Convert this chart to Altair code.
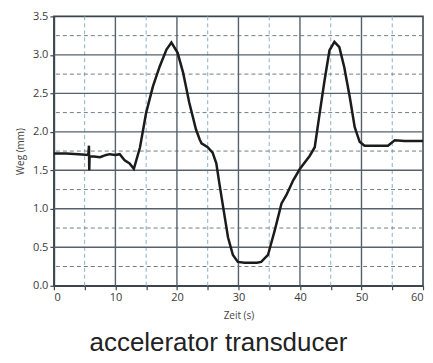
import altair as alt
import pandas as pd

# time (s) and displacement (mm)
t = [0, 2, 4, 5.6, 5.7, 5.75, 5.8, 6.5, 7.5, 8.5,
     9.1, 10.0, 10.7, 11.5, 12.3, 13.0, 14.0, 15.0, 16.1, 17.2,
     18.3, 19.1, 20.1, 21.0, 22.0, 23.1, 23.7, 24.0, 25.0, 25.8,
     26.4, 26.9, 27.6, 28.3, 29.1, 29.9, 31.0, 32.0, 33.0, 33.7,
     34.8, 35.9, 37.0, 37.8, 38.9, 40.0, 41.6, 42.4, 43.2, 44.0,
     44.8, 45.6, 46.4, 47.2, 48.1, 48.9, 49.7, 50.5, 52.0, 54.3,
     55.4, 57.0, 60.0]
weg = [1.72, 1.72, 1.71, 1.70, 1.82, 1.50, 1.68, 1.68, 1.67, 1.70,
       1.71, 1.70, 1.71, 1.63, 1.59, 1.52, 1.80, 2.25, 2.59, 2.85,
       3.07, 3.16, 3.03, 2.77, 2.38, 2.03, 1.90, 1.85, 1.80, 1.73,
       1.59, 1.33, 0.98, 0.63, 0.40, 0.31, 0.30, 0.30, 0.30, 0.31,
       0.40, 0.72, 1.07, 1.18, 1.37, 1.52, 1.69, 1.80, 2.24, 2.67,
       3.06, 3.17, 3.10, 2.84, 2.45, 2.06, 1.87, 1.82, 1.82, 1.82,
       1.89, 1.88, 1.88]

x_ticks = [0, 5, 10, 15, 20, 25, 30, 35, 40, 45, 50, 55, 60]
y_ticks = [0.0, 0.5, 1.0, 1.5, 2.0, 2.5, 3.0, 3.5]
x_major = [10, 20, 30, 40, 50]
x_minor = [5, 15, 25, 35, 45, 55]
y_major = [0.5, 1.0, 1.5, 2.0, 2.5, 3.0]
y_minor = [0.25, 0.75, 1.25, 1.75, 2.25, 2.75, 3.25]

xs = alt.Scale(domain=[0, 60], nice=False, zero=False)
ys = alt.Scale(domain=[0, 3.5], nice=False, zero=False)

xaxis = alt.Axis(values=x_ticks,
                 labelExpr="datum.value % 10 == 0 ? datum.label : ''",
                 tickSize=4, tickColor="#444", tickWidth=1.2,
                 domainColor="#3c4650", domainWidth=1.6,
                 labelFont="Open Sans", labelFontSize=11,
                 labelColor="#3a3a3a", labelPadding=2,
                 titleFont="Open Sans", titleFontSize=10,
                 titleFontWeight="normal", titleColor="#444",
                 titlePadding=8, grid=False)
yaxis = alt.Axis(values=y_ticks, format=".1f",
                 tickSize=4, tickColor="#444", tickWidth=1.2,
                 domainColor="#3c4650", domainWidth=1.6,
                 labelFont="Open Sans", labelFontSize=11,
                 labelColor="#3a3a3a", labelPadding=2,
                 titleFont="Open Sans", titleFontSize=10,
                 titleFontWeight="normal", titleColor="#444",
                 titlePadding=7, grid=False)

df = pd.DataFrame({"t": t, "weg": weg})

def X(field):
    return alt.X(field, type="quantitative", scale=xs, axis=xaxis, title="Zeit (s)")

def Y(field):
    return alt.Y(field, type="quantitative", scale=ys, axis=yaxis, title="Weg (mm)")

vmin = alt.Chart(pd.DataFrame({"x": x_minor})).mark_rule(
    color="#8db1c9", strokeDash=[4, 3], strokeWidth=1
).encode(x=X("x"))
hmin = alt.Chart(pd.DataFrame({"y": y_minor})).mark_rule(
    color="#6f7c88", strokeDash=[4, 3], strokeWidth=1
).encode(y=Y("y"))
vmaj = alt.Chart(pd.DataFrame({"x": x_major})).mark_rule(
    color="#56616b", strokeWidth=1.4
).encode(x=X("x"))
hmaj = alt.Chart(pd.DataFrame({"y": y_major})).mark_rule(
    color="#56616b", strokeWidth=1.4
).encode(y=Y("y"))

line = alt.Chart(df).mark_line(color="#1b1b1b", strokeWidth=2.5).encode(
    x=X("t"), y=Y("weg"))

chart = alt.layer(vmin, hmin, vmaj, hmaj, line).properties(
    width=370, height=270,
    autosize=alt.AutoSizeParams(type="none"),
    padding={"left": 46, "top": 8, "right": 2, "bottom": 69},
    title=alt.TitleParams("accelerator transducer", orient="bottom",
                          anchor="middle", fontSize=26, font="Liberation Sans",
                          fontWeight="normal", color="#222", offset=9, dx=-20),
).configure_view(stroke="#3c4650", strokeWidth=1.6)

chart.save("out.html", embed_options={"renderer": "svg", "actions": False})
